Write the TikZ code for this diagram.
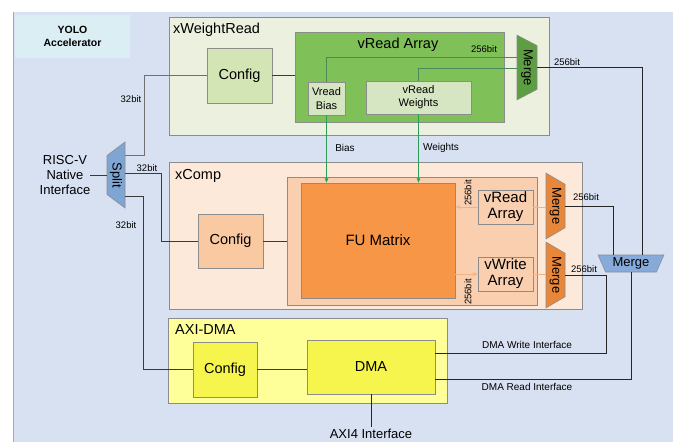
\documentclass[tikz,border=0pt]{standalone}
\usepackage{fontspec}
\setmainfont{Liberation Sans}
\usepackage{xcolor}
\usepackage{tikz}
\usetikzlibrary{positioning,arrows.meta,calc,shapes.geometric}

\definecolor{bgblue}{HTML}{D8E1F2}
\definecolor{bgedge}{HTML}{9AABC6}
\definecolor{yolocyan}{HTML}{DAEEF3}
\definecolor{wrfill}{HTML}{EBF1DE}
\definecolor{wrcfgfill}{HTML}{D3E5B5}
\definecolor{vrafill}{HTML}{7FC158}
\definecolor{vboxfill}{HTML}{D7E6C2}
\definecolor{mergegreen}{HTML}{5E9E43}
\definecolor{xcfill}{HTML}{FDE9D9}
\definecolor{xccfgfill}{HTML}{F9C9A2}
\definecolor{fucontfill}{HTML}{F9CFB0}
\definecolor{fufill}{HTML}{F79646}
\definecolor{mergeorange}{HTML}{E8873A}
\definecolor{arrorange}{HTML}{F4B183}
\definecolor{bluemerge}{HTML}{86ABDB}
\definecolor{splitblue}{HTML}{7FA5D3}
\definecolor{axifill}{HTML}{FFFF99}
\definecolor{dmafill}{HTML}{F5F54E}
\definecolor{edgegray}{HTML}{8C8C8C}
\definecolor{linedark}{HTML}{3A3A3A}
\definecolor{greenarrow}{HTML}{2E9B58}
\definecolor{greenline}{HTML}{4A8A56}

\newcommand{\fsz}[2]{\fontsize{#1}{#2}\selectfont}

\begin{document}
\begin{tikzpicture}[
  x=1pt, y=-1pt,
  font=\fsz{14.5}{17},
  frame/.style={draw=edgegray, line width=0.6pt, inner sep=0pt, align=center},
  boxcap/.style={anchor=base west, inner sep=0pt},
  tag/.style={inner sep=0pt, font=\fsz{9.5}{11}},
  iface/.style={inner sep=0pt, font=\fsz{10}{12}},
  mux/.style={trapezium, trapezium stretches=true, draw=edgegray, line width=0.6pt, inner sep=0pt, font=\fsz{13}{15}},
  ln/.style={draw=linedark, line width=0.8pt},
  arr/.style={-{Stealth[length=5pt,width=4pt]}, line width=0.8pt}
]
\useasboundingbox (0,0) rectangle (673,442);
\fill[white] (0,0) rectangle (673,442);
\fill[bgblue] (13,12) rectangle (673,442);
\draw[bgedge, line width=0.8pt] (13,442) -- (13,12);

% label block
\node[frame, draw=none, fill=yolocyan, minimum width=115pt, minimum height=43pt, font=\bfseries\fsz{10.5}{13}] (yolo) at (72.5,36.5) {YOLO\\Accelerator};

% xWeightRead
\node[frame, fill=wrfill, minimum width=380pt, minimum height=118pt] (wr) at (359,76) {};
\node[boxcap] (wrcap) at (173,33) {xWeightRead};
\node[frame, fill=wrcfgfill, minimum width=65pt, minimum height=55pt] (wrcfg) at (239.5,75.5) {Config};
\node[frame, fill=vrafill, minimum width=209pt, minimum height=90pt] (vra) at (399.5,77) {};
\node[anchor=base, inner sep=0pt] (vracap) at (398,48) {vRead Array};
\node[frame, fill=vboxfill, minimum width=37pt, minimum height=33pt, font=\fsz{11}{14}] (vbias) at (326.5,98.5) {Vread\\Bias};
\node[frame, fill=vboxfill, minimum width=105pt, minimum height=33pt, font=\fsz{11}{13}] (vweights) at (418.5,97.5) {vRead\\Weights};
\node[mux, fill=mergegreen, trapezium angle=53, minimum width=65pt, minimum height=20pt, rotate=-90] (mergew) at (527,67.5) {Merge};

% RISC-V side
\node[inner sep=0pt, align=center, font=\fsz{13}{15}] (riscv) at (65,175) {RISC-V\\Native\\Interface};
\node[mux, fill=splitblue, trapezium angle=54, minimum width=66pt, minimum height=18pt, rotate=90] (split) at (116,175) {\rotatebox{180}{Split}};

% xComp
\node[frame, fill=xcfill, minimum width=413pt, minimum height=147pt] (xc) at (375.5,235.5) {};
\node[boxcap] (xccap) at (175,179) {xComp};
\node[frame, fill=xccfgfill, minimum width=65pt, minimum height=54pt] (xccfg) at (230.5,241) {Config};
\node[frame, fill=fucontfill, minimum width=250pt, minimum height=128pt] (fucont) at (412,241) {};
\node[frame, fill=fufill, minimum width=154pt, minimum height=115pt, font=\fsz{15}{17}] (fu) at (378,240.5) {FU Matrix};
\node[frame, fill=fucontfill, minimum width=55pt, minimum height=34pt, font=\fsz{15}{16}] (xcvr) at (505.5,207) {vRead\\Array};
\node[frame, fill=fucontfill, minimum width=55pt, minimum height=34pt, font=\fsz{15}{16}] (xcvw) at (505.5,274) {vWrite\\Array};
\node[mux, fill=mergeorange, trapezium angle=51, minimum width=66pt, minimum height=19pt, rotate=-90] (mergeu) at (555.5,206) {Merge};
\node[mux, fill=mergeorange, trapezium angle=51, minimum width=66pt, minimum height=19pt, rotate=-90] (mergel) at (555.5,275) {Merge};
\node[mux, fill=bluemerge, trapezium angle=65, minimum width=66pt, minimum height=17pt, rotate=180] (bm) at (631,263.5) {\rotatebox{180}{Merge}};

% AXI-DMA
\node[frame, fill=axifill, minimum width=279pt, minimum height=85pt] (axdma) at (307.5,360.5) {};
\node[boxcap] (axcap) at (175,334) {AXI-DMA};
\node[frame, fill=dmafill, minimum width=64pt, minimum height=55pt] (dmacfg) at (225,369.5) {Config};
\node[frame, fill=dmafill, minimum width=128pt, minimum height=54pt] (dma) at (371,367) {DMA};
\node[anchor=base, inner sep=1pt, font=\fsz{13}{15}] (axi) at (371,438) {AXI4 Interface};

% connectors
\draw[ln] (riscv.east |- split.north) -- (split.north);
\draw[ln, draw=edgegray!80!black] (split.south |- 0,155) -- ++(19,0) |- (wrcfg.west);
\draw[ln] (split.south |- 0,173) -- ++(36,0) |- (xccfg.west);
\draw[ln] (split.south |- 0,196) -- ++(18,0) |- (dmacfg.west);
\draw[ln] (wrcfg.east) -- (wrcfg.east -| vra.west);
\draw[draw=greenline, line width=0.7pt] (vbias.north) |- (mergew.south |- 0,57);
\draw[draw=greenline, line width=0.7pt] (vweights.north) |- (mergew.south |- 0,68);
\draw[ln, draw=black!85] (mergew.north) -| (642,0 |- bm.south);
\draw[arr, greenarrow] (vbias.south) -- (vbias.south |- fu.north);
\draw[arr, greenarrow] (vweights.south) -- (vweights.south |- fu.north);
\draw[ln] (xccfg.east) -- (xccfg.east -| fucont.west);
\draw[arr, arrorange] (xcvr.west) -- (xcvr.west -| fu.east);
\draw[arr, arrorange] (fu.east |- xcvw.west) -- (xcvw.west);
\draw[arrorange, line width=0.8pt] (xcvr.east) -- (mergeu.south |- xcvr.east);
\draw[arrorange, line width=0.8pt] (xcvw.east) -- (mergel.south |- xcvw.east);
\draw[ln, draw=black!85] (mergeu.north) -| (613,0 |- bm.south);
\draw[ln, draw=black!85] (mergel.north) -- ++(41.5,0) |- (dma.east |- 0,353);
\draw[ln, draw=black!85] (bm.north) |- (dma.east |- 0,379);
\draw[ln] (dmacfg.east) -- (dmacfg.east -| dma.west);
\draw[ln, draw=black!85] (dma.south) -- (axi.north);

% width labels
\node[tag] (w32a) at (131,99) {32bit};
\node[tag] (w32b) at (147,168) {32bit};
\node[tag] (w32c) at (126,225) {32bit};
\node[tag] (w256a) at (484,49) {256bit};
\node[tag] (w256b) at (567,62) {256bit};
\node[tag, rotate=90] (w256c) at (468,193) {256bit};
\node[tag, rotate=90] (w256d) at (468,292) {256bit};
\node[tag] (w256e) at (586,197) {256bit};
\node[tag] (w256f) at (584,269) {256bit};
\node[inner sep=0pt, font=\fsz{10}{12}] (biaslbl) at (345,148) {Bias};
\node[inner sep=0pt, font=\fsz{10}{12}] (wtlbl) at (441,148) {Weights};
\node[iface] (dmaw) at (527,345) {DMA Write Interface};
\node[iface] (dmar) at (527,387) {DMA Read Interface};
\end{tikzpicture}
\end{document}
